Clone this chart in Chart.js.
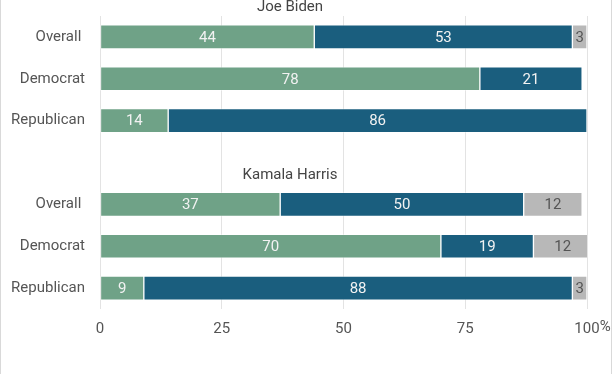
<!DOCTYPE html>
<html>
<head>
<meta charset="utf-8">
<script src="https://cdn.jsdelivr.net/npm/chart.js@4"></script>
<style>
  html, body { margin: 0; padding: 0; background: #fff; }
  #wrap { position: relative; width: 610px; height: 374px; border-left: 1px solid #d9d9d9; border-right: 1px solid #d9d9d9; }
</style>
</head>
<body>
<div id="wrap"><canvas id="chart"></canvas></div>
<script>
// rows for each candidate, blank row between the two groups
const groups = ['Joe Biden', 'Kamala Harris'];
const rowLabels = ['Overall ', 'Democrat', 'Republican'];

// Biden
const bidenFav = [44, 78, 14];
const bidenUnfav = [53, 21, 86];
const bidenNoOpinion = [3, null, null];

// Harris
const harrisFav = [37, 70, 9];
const harrisUnfav = [50, 19, 88];
const harrisNoOpinion = [12, 12, 3];

const xTicks = [0, 25, 50, 75, 100];
const TICK_PAD = 11;

const labels = [...rowLabels, '', ...rowLabels];
const join = (a, b) => [...a, null, ...b];

const FONT = 'Roboto';

// value labels inside the bars
const valueLabels = {
  id: 'valueLabels',
  afterDatasetsDraw(chart) {
    const ctx = chart.ctx;
    ctx.save();
    ctx.font = '15px ' + FONT;
    ctx.textAlign = 'center';
    ctx.textBaseline = 'middle';
    chart.data.datasets.forEach((ds, i) => {
      const meta = chart.getDatasetMeta(i);
      meta.data.forEach((bar, j) => {
        const v = ds.data[j];
        if (v == null) return;
        ctx.fillStyle = ds.labelColor;
        ctx.fillText(v, (bar.x + bar.base) / 2, bar.y + 1);
      });
    });
    ctx.restore();
  }
};

// group titles + the "%" hanging off the last tick
const extras = {
  id: 'extras',
  afterDraw(chart) {
    const ctx = chart.ctx;
    const y = chart.scales.y, x = chart.scales.x;
    ctx.save();
    ctx.font = '15px ' + FONT;
    ctx.fillStyle = '#444';
    ctx.textAlign = 'center';
    ctx.textBaseline = 'middle';
    ctx.fillText(groups[0], 289, y.getPixelForValue(0) - 30);
    ctx.fillText(groups[1], 289, y.getPixelForValue(4) - 29);
    ctx.fillStyle = '#555';
    ctx.textAlign = 'left';
    ctx.textBaseline = 'top';
    const px = x.getPixelForValue(100) + ctx.measureText('100').width / 2;
    ctx.fillText('%', px, x.top + TICK_PAD);
    ctx.restore();
  }
};

new Chart(document.getElementById('chart'), {
  type: 'bar',
  data: {
    labels: labels,
    datasets: [
      { label: 'Favorable', data: join(bidenFav, harrisFav), backgroundColor: '#6fa287', labelColor: '#f2f2f2' },
      { label: 'Unfavorable', data: join(bidenUnfav, harrisUnfav), backgroundColor: '#1a5e7e', labelColor: '#f2f2f2' },
      { label: 'No opinion', data: join(bidenNoOpinion, harrisNoOpinion), backgroundColor: '#b8b8b8', labelColor: '#555' }
    ]
  },
  options: {
    indexAxis: 'y',
    responsive: true,
    maintainAspectRatio: false,
    animation: false,
    datasets: { bar: { barThickness: 24, borderWidth: 1, borderColor: 'rgba(255,255,255,0.35)', borderSkipped: false } },
    layout: { padding: { top: 5, right: 24, bottom: 35, left: 0 } },
    plugins: { legend: { display: false }, tooltip: { enabled: false } },
    scales: {
      x: {
        stacked: true,
        min: 0,
        max: 100,
        afterBuildTicks(s) { s.ticks = xTicks.map(v => ({ value: v })); },
        afterFit(s) { s.height = 30; },
        grid: { color: '#e3e3e3', drawTicks: false },
        border: { display: false },
        ticks: { font: { family: FONT, size: 15 }, color: '#555', padding: TICK_PAD }
      },
      y: {
        stacked: true,
        afterFit(s) { s.width = 99; },
        grid: { display: false },
        border: { display: false },
        ticks: { font: { family: FONT, size: 15 }, color: '#555', padding: 7 }
      }
    }
  },
  plugins: [valueLabels, extras]
});
</script>
</body>
</html>
